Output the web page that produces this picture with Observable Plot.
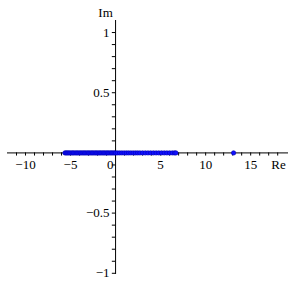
<!DOCTYPE html>
<html>
<head>
<meta charset="utf-8">
<script src="https://cdn.jsdelivr.net/npm/d3@7"></script>
<script src="https://cdn.jsdelivr.net/npm/@observablehq/plot@0.6"></script>
<style>
  html, body { margin: 0; padding: 0; background: #fff; }
  #chart svg { display: block; }
  #chart svg text { font-family: "Liberation Serif", "DejaVu Serif", serif !important; }
</style>
</head>
<body>
<div id="chart"></div>
<script>
// Real parts of the plotted points (imaginary part is 0 for all)
const reValues = [
  -5.62, -5.5, -5.38, -5.25, -5.1, -4.95, -4.8, -4.66, -4.5, -4.35, -4.2, -4.05,
  -3.9, -3.74, -3.6, -3.45, -3.3, -3.15, -3.0, -2.85, -2.7, -2.55, -2.4, -2.25,
  -2.1, -1.95, -1.8, -1.65, -1.5, -1.35, -1.2, -1.05, -0.9, -0.75, -0.6, -0.45,
  -0.3, -0.15, 0.0, 0.2, 0.45, 0.7, 0.95, 1.2, 1.45, 1.7, 1.95, 2.2, 2.45, 2.7,
  3.0, 3.3, 3.6, 3.9, 4.2, 4.5, 4.8, 5.1, 5.4, 5.7, 6.0, 6.3, 6.55, 6.7, 13.1
];
const imValues = reValues.map(() => 0);

const xLabelTicks = [-10, -5, 5, 10, 15];
const yLabelTicks = [-1, -0.5, 0.5, 1];
const xMinorTicks = [-11,-10,-9,-8,-7,-6,-5,-4,-3,-2,-1,1,2,3,4,5,6,7,8,9,10,11,12,13,14,15,16,17,18];
const yMinorTicks = [-1,-0.9,-0.8,-0.7,-0.6,-0.5,-0.4,-0.3,-0.2,-0.1,0.1,0.2,0.3,0.4,0.5,0.6,0.7,0.8,0.9,1];
const xDomain = [-12, 19.2];
const yDomain = [-1.01, 1.1];

const points = reValues.map((re, i) => ({re, im: imValues[i]}));
const fmt = v => String(v).replace("-", "\u2212");
const font = "Liberation Serif";

const chart = Plot.plot({
  width: 300,
  height: 284,
  marginLeft: 7,
  marginRight: 12,
  marginTop: 20,
  marginBottom: 10,
  x: {domain: xDomain, axis: null},
  y: {domain: yDomain, axis: null},
  style: {fontFamily: font, background: "#fff"},
  marks: [
    Plot.ruleY([0], {x1: xDomain[0], x2: xDomain[1], stroke: "#000", strokeWidth: 1}),
    Plot.ruleX([0], {y1: yDomain[0], y2: yDomain[1], stroke: "#000", strokeWidth: 1}),
    Plot.ruleX(xMinorTicks, {x: d => d, y1: 0, y2: -0.026, stroke: "#000", strokeWidth: 1}),
    Plot.ruleY(yMinorTicks, {y: d => d, x1: -0.36, x2: 0, stroke: "#000", strokeWidth: 1}),
    Plot.text(xLabelTicks, {x: d => d, y: 0, text: fmt, dy: 12, fontSize: 13, fontFamily: font, fill: "#000"}),
    Plot.text([0], {x: 0, y: 0, text: d => "0", dy: 12, dx: -2, textAnchor: "end", fontSize: 13, fontFamily: font, fill: "#000"}),
    Plot.text(yLabelTicks, {x: 0, y: d => d, text: fmt, dx: -6, textAnchor: "end", fontSize: 13, fontFamily: font, fill: "#000"}),
    Plot.text(["Re"], {x: xDomain[1], y: 0, text: d => d, dy: 12, dx: -10, fontSize: 13, fontFamily: font, fill: "#000"}),
    Plot.text(["Im"], {x: 0, y: yDomain[1], text: d => d, dx: -10, dy: -8, fontSize: 13, fontFamily: font, fill: "#000"}),
    Plot.dot(points, {x: "re", y: "im", r: 2.2, fill: "#1010ff", stroke: "#0000b0", strokeWidth: 0.6})
  ]
});
document.getElementById("chart").appendChild(chart);
</script>
</body>
</html>
